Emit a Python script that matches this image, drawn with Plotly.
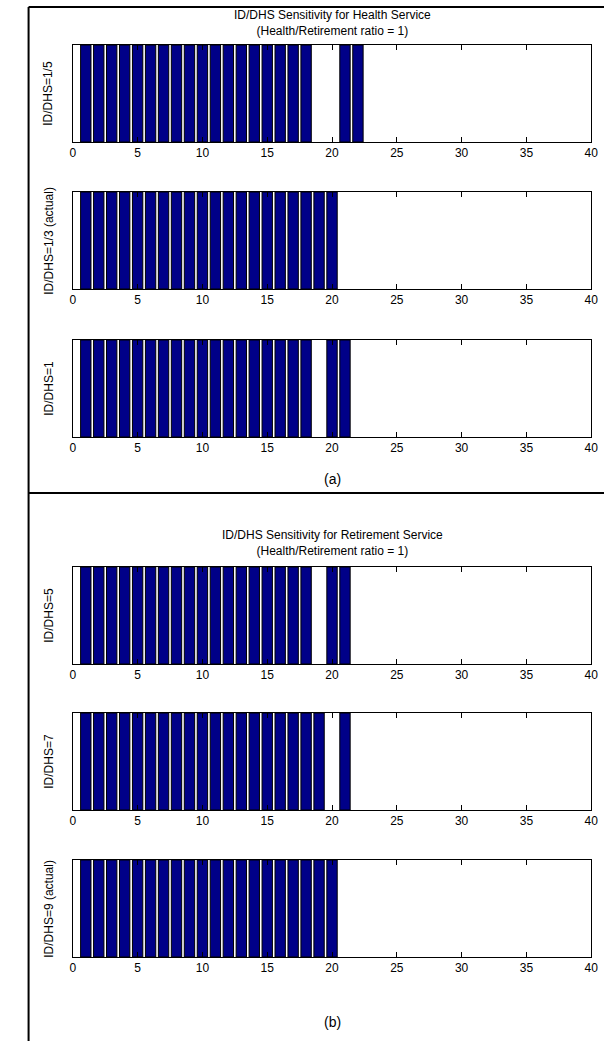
import plotly.graph_objects as go

W, H = 611, 1041

# Data: bar positions (value 1 at each) per subplot
panel_titles = [
    "ID/DHS Sensitivity for Health Service<br>(Health/Retirement ratio = 1)",
    "ID/DHS Sensitivity for Retirement Service<br>(Health/Retirement ratio = 1)",
]
panel_labels = ["(a)", "(b)"]
ylabels = ["ID/DHS=1/5", "ID/DHS=1/3 (actual)", "ID/DHS=1",
           "ID/DHS=5", "ID/DHS=7", "ID/DHS=9 (actual)"]
bar_x = [
    list(range(1, 19)) + [21, 22],
    list(range(1, 21)),
    list(range(1, 19)) + [20, 21],
    list(range(1, 19)) + [20, 21],
    list(range(1, 20)) + [21],
    list(range(1, 21)),
]
bar_y = [[1] * len(b) for b in bar_x]
xticks = [0, 5, 10, 15, 20, 25, 30, 35, 40]

# Layout in pixels
ax_left, ax_right = 71, 598
ax_tops = [45, 192, 340, 567, 713, 860]
ax_h = 97
FONT = "Liberation Sans, Arial, sans-serif"

def px(x):
    return x / W

def py(y):
    return 1 - y / H

fig = go.Figure()
layout = dict(
    width=W, height=H, margin=dict(l=0, r=0, t=0, b=0),
    paper_bgcolor="white", plot_bgcolor="white", showlegend=False,
    font=dict(family=FONT, size=12, color="black"),
    bargap=0.2,
)
annotations = []
for i in range(6):
    xa = "x" if i == 0 else f"x{i+1}"
    ya = "y" if i == 0 else f"y{i+1}"
    fig.add_trace(go.Bar(
        x=bar_x[i], y=bar_y[i], xaxis=xa, yaxis=ya, width=0.8,
        marker=dict(color="#000088", line=dict(color="black", width=1)),
        hoverinfo="skip",
    ))
    top = ax_tops[i]
    layout["xaxis" if i == 0 else f"xaxis{i+1}"] = dict(
        domain=[px(ax_left), px(ax_right)], anchor=ya, range=[0, 40],
        tickvals=xticks, ticks="inside", ticklen=5, tickcolor="black",
        showline=True, linecolor="black", linewidth=1, mirror="ticks",
        showgrid=False, zeroline=False, tickfont=dict(size=12),
        fixedrange=True,
    )
    layout["yaxis" if i == 0 else f"yaxis{i+1}"] = dict(
        domain=[py(top + ax_h), py(top)], anchor=xa, range=[0, 1],
        showticklabels=False, ticks="", showline=True, linecolor="black",
        linewidth=1, mirror=True, showgrid=False, zeroline=False,
        fixedrange=True,
    )
    annotations.append(dict(
        text=ylabels[i], xref="paper", yref="paper", x=px(46),
        y=py(top + ax_h / 2), textangle=-90, showarrow=False,
        xanchor="center", yanchor="middle", font=dict(size=12),
    ))

# Panel titles and labels
for j, (ty, ly) in enumerate([(23, 479), (543, 1022)]):
    annotations.append(dict(
        text=panel_titles[j], xref="paper", yref="paper",
        x=px((ax_left + ax_right) / 2), y=py(ty), showarrow=False,
        xanchor="center", yanchor="middle", font=dict(size=12),
    ))
    annotations.append(dict(
        text=panel_labels[j], xref="paper", yref="paper",
        x=px((ax_left + ax_right) / 2), y=py(ly), showarrow=False,
        xanchor="center", yanchor="middle", font=dict(size=14),
    ))
layout["annotations"] = annotations

# Frame lines
layout["shapes"] = [
    dict(type="line", xref="paper", yref="paper", x0=px(26), x1=px(26),
         y0=0, y1=py(7), line=dict(color="black", width=2)),
    dict(type="line", xref="paper", yref="paper", x0=px(26), x1=1,
         y0=py(7), y1=py(7), line=dict(color="black", width=2)),
    dict(type="line", xref="paper", yref="paper", x0=px(26), x1=1,
         y0=py(493), y1=py(493), line=dict(color="black", width=2)),
]
fig.update_layout(**layout)
fig.write_html("out.html")
